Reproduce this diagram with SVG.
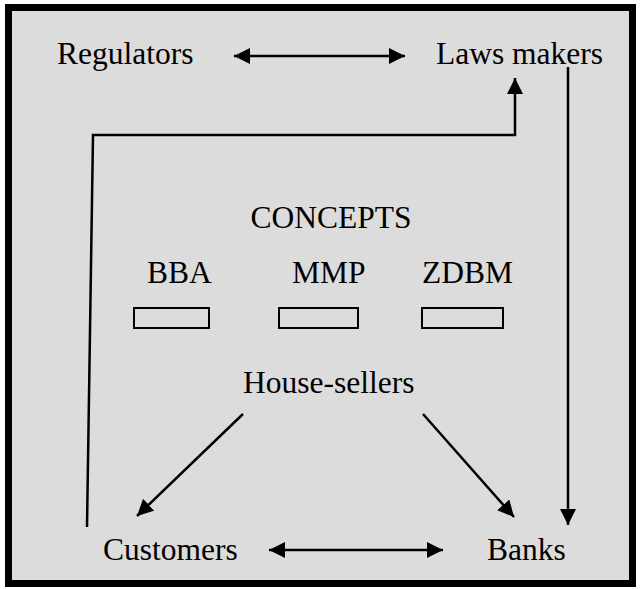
<svg xmlns="http://www.w3.org/2000/svg" width="640" height="589" viewBox="0 0 640 589">
<style>
text{font-family:"Liberation Serif","Times New Roman",serif;font-size:31.5px;fill:#000}
.ln{stroke:#000;stroke-width:2.5;fill:none}
.box{fill:none;stroke:#000;stroke-width:2}
</style>
<defs>
<marker id="ah" viewBox="0 0 10 10" refX="10" refY="5" markerWidth="6.5" markerHeight="6.5" markerUnits="strokeWidth" orient="auto-start-reverse">
<path d="M0,0 L10,5 L0,10 z" fill="#000"/>
</marker>
</defs>
<rect x="8.5" y="7.5" width="624" height="576" fill="#dcdcdc" stroke="#000" stroke-width="7"/>
<g id="connectors">
<line class="ln" x1="234" y1="56" x2="405" y2="56" marker-start="url(#ah)" marker-end="url(#ah)"/>
<polyline class="ln" points="87,527 93,135 515,135 515,78" marker-end="url(#ah)"/>
<line class="ln" x1="568" y1="67" x2="568" y2="525" marker-end="url(#ah)"/>
<line class="ln" x1="243" y1="414" x2="137" y2="516" marker-end="url(#ah)"/>
<line class="ln" x1="423" y1="414" x2="514" y2="517" marker-end="url(#ah)"/>
<line class="ln" x1="269" y1="550" x2="443" y2="550" marker-start="url(#ah)" marker-end="url(#ah)"/>
</g>
<g id="regulators"><text x="57" y="64">Regulators</text></g>
<g id="laws-makers"><text x="436" y="64">Laws makers</text></g>
<g id="concepts"><text x="331" y="228" text-anchor="middle">CONCEPTS</text></g>
<g id="bba"><text x="147" y="283">BBA</text><rect class="box" x="134" y="308" width="75" height="20"/></g>
<g id="mmp"><text x="292" y="283">MMP</text><rect class="box" x="279" y="308" width="79" height="20"/></g>
<g id="zdbm"><text x="422" y="283">ZDBM</text><rect class="box" x="422" y="308" width="81" height="20"/></g>
<g id="house-sellers"><text x="243" y="393">House-sellers</text></g>
<g id="customers"><text x="103" y="560">Customers</text></g>
<g id="banks"><text x="487" y="560">Banks</text></g>
</svg>
